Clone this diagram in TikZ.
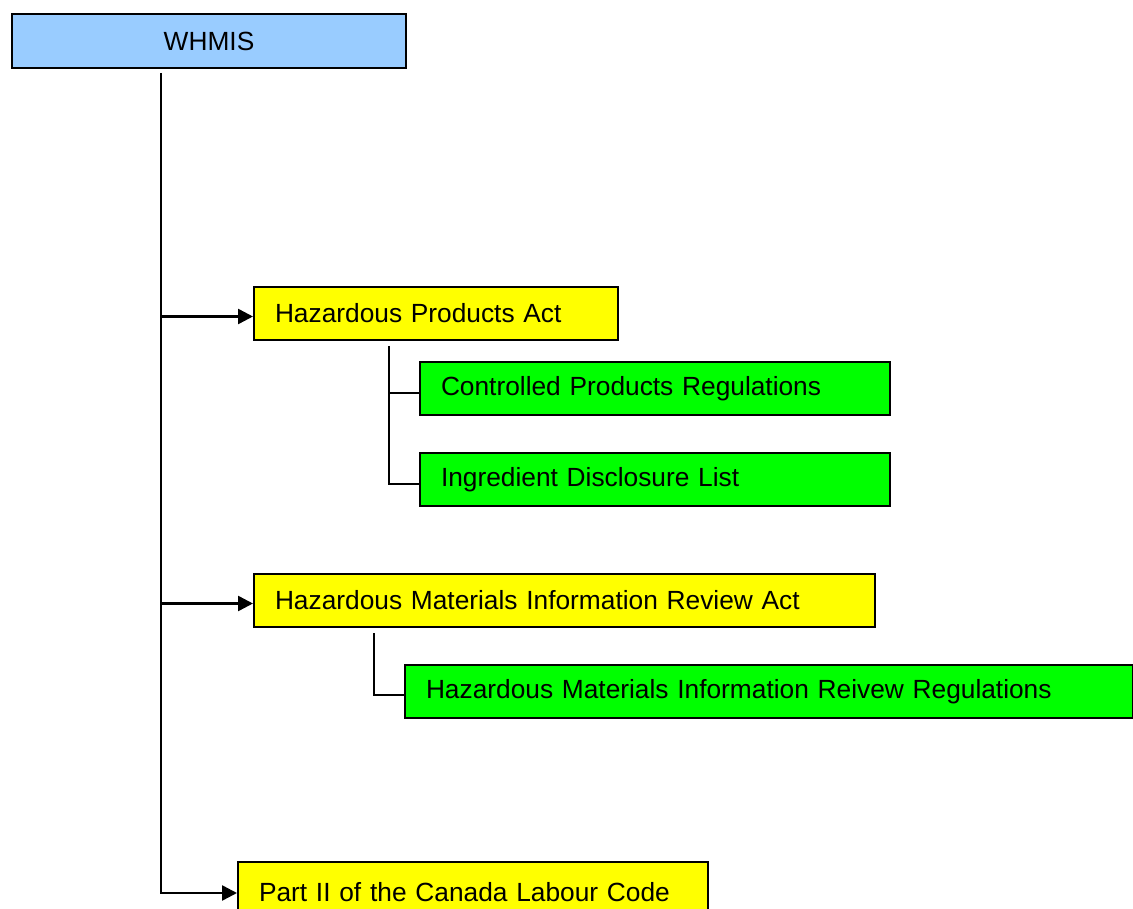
\documentclass[tikz,border=0pt]{standalone}
\usepackage{fontspec}
\setmainfont{Liberation Sans}
\usetikzlibrary{arrows.meta}
\definecolor{headblue}{HTML}{99CCFF}
\definecolor{actyellow}{HTML}{FFFF00}
\definecolor{reggreen}{HTML}{00FF00}
\begin{document}
\begin{tikzpicture}[x=1pt,y=-1pt,
  every node/.style={font=\fontsize{26.3}{30}\selectfont},
  box/.style={draw=black, line width=2pt, anchor=north west, inner xsep=21pt,
              inner ysep=0pt, minimum height=53pt, align=left},
  headbox/.style={draw=black, line width=2pt, anchor=north west, fill=headblue,
              minimum width=394pt, minimum height=54pt, inner sep=0pt},
  actbox/.style={box, fill=actyellow},
  regbox/.style={box, fill=reggreen},
  branch/.style={line width=2pt},
  feed/.style={line width=2.5pt, -{Triangle[length=15pt,width=15pt]}}
]
\useasboundingbox (0,0) rectangle (1133,909);
\clip (0,0) rectangle (1133,909);

% boxes
\node[headbox] (whmis) at (11,13) {WHMIS};
\node[actbox, text width=322pt] (hpa) at (253,286) {Hazardous Products Act};
\node[regbox, text width=428pt] (cpr) at (419,361) {Controlled Products Regulations};
\node[regbox, text width=428pt] (idl) at (419,452) {Ingredient Disclosure List};
\node[actbox, text width=579pt] (hmira) at (253,573) {Hazardous Materials Information Review Act};
\node[regbox, text width=686pt] (hmirr) at (404,664) {Hazardous Materials Information Reivew Regulations};
\node[actbox, text width=428pt, minimum height=60pt] (labour) at (237,861) {Part II of the Canada Labour Code};

% main trunk and its arrows
\coordinate (top) at (161,73);
\coordinate (labourin) at ([yshift=-1pt]labour.west);
\draw[feed] (top) |- (labourin);
\draw[feed] ([yshift=-3pt]hpa.west -| top) -- ([yshift=-3pt]hpa.west);
\draw[feed] ([yshift=-3pt]hmira.west -| top) -- ([yshift=-3pt]hmira.west);

% sub-branches
\coordinate (hpastem) at (389,346);
\draw[branch] (hpastem) |- ([yshift=-4pt]idl.west);
\draw[branch] ([yshift=-4pt]cpr.west -| hpastem) -- ([yshift=-4pt]cpr.west);
\coordinate (hmirastem) at (374,633);
\draw[branch] (hmirastem) |- ([yshift=-3pt]hmirr.west);
\end{tikzpicture}
\end{document}
